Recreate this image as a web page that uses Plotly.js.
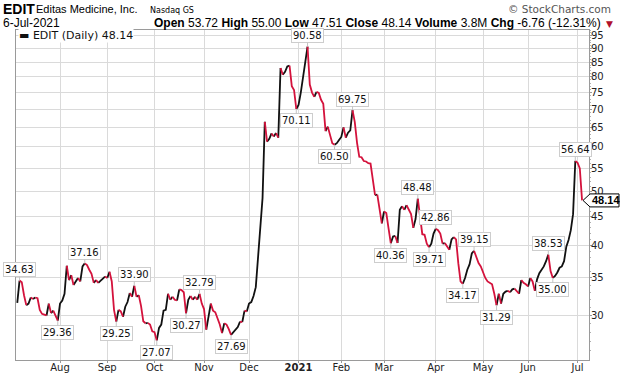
<!DOCTYPE html>
<html><head><meta charset="utf-8">
<script src="https://cdn.plot.ly/plotly-3.0.1.min.js"></script>
<style>html,body{margin:0;padding:0;background:#fff}#chart{width:620px;height:376px}</style>
</head><body><div id="chart"></div>
<script>
const dates = [
'2020-07-07','2020-07-08','2020-07-09','2020-07-10','2020-07-13','2020-07-14','2020-07-15','2020-07-16','2020-07-17',
'2020-07-20','2020-07-21','2020-07-22','2020-07-23','2020-07-24','2020-07-27','2020-07-28','2020-07-29','2020-07-30','2020-07-31',
'2020-08-03','2020-08-04','2020-08-05','2020-08-06','2020-08-07','2020-08-10','2020-08-11','2020-08-12','2020-08-13','2020-08-14',
'2020-08-17','2020-08-18','2020-08-19','2020-08-20','2020-08-21','2020-08-24','2020-08-25','2020-08-26','2020-08-27','2020-08-28','2020-08-31',
'2020-09-01','2020-09-02','2020-09-03','2020-09-04','2020-09-08','2020-09-09','2020-09-10','2020-09-11','2020-09-14','2020-09-15',
'2020-09-16','2020-09-17','2020-09-18','2020-09-21','2020-09-22','2020-09-23','2020-09-24','2020-09-25','2020-09-28','2020-09-29','2020-09-30',
'2020-10-01','2020-10-02','2020-10-05','2020-10-06','2020-10-07','2020-10-08','2020-10-09','2020-10-12','2020-10-13','2020-10-14',
'2020-10-15','2020-10-16','2020-10-19','2020-10-20','2020-10-21','2020-10-22','2020-10-23','2020-10-26','2020-10-27','2020-10-28','2020-10-29','2020-10-30',
'2020-11-02','2020-11-03','2020-11-04','2020-11-05','2020-11-06','2020-11-09','2020-11-10','2020-11-11','2020-11-12','2020-11-13',
'2020-11-16','2020-11-17','2020-11-18','2020-11-19','2020-11-20','2020-11-23','2020-11-24','2020-11-25','2020-11-27','2020-11-30',
'2020-12-01','2020-12-02','2020-12-03','2020-12-04','2020-12-07','2020-12-08','2020-12-09','2020-12-10','2020-12-11',
'2020-12-14','2020-12-15','2020-12-16','2020-12-17','2020-12-18','2020-12-21','2020-12-22','2020-12-23','2020-12-24','2020-12-28','2020-12-29','2020-12-30','2020-12-31',
'2021-01-04','2021-01-05','2021-01-06','2021-01-07','2021-01-08','2021-01-11','2021-01-12','2021-01-13','2021-01-14','2021-01-15',
'2021-01-19','2021-01-20','2021-01-21','2021-01-22','2021-01-25','2021-01-26','2021-01-27','2021-01-28','2021-01-29',
'2021-02-01','2021-02-02','2021-02-03','2021-02-04','2021-02-05','2021-02-08','2021-02-09','2021-02-10','2021-02-11','2021-02-12',
'2021-02-16','2021-02-17','2021-02-18','2021-02-19','2021-02-22','2021-02-23','2021-02-24','2021-02-25','2021-02-26',
'2021-03-01','2021-03-02','2021-03-03','2021-03-04','2021-03-05','2021-03-08','2021-03-09','2021-03-10','2021-03-11','2021-03-12',
'2021-03-15','2021-03-16','2021-03-17','2021-03-18','2021-03-19','2021-03-22','2021-03-23','2021-03-24','2021-03-25','2021-03-26','2021-03-29','2021-03-30','2021-03-31',
'2021-04-01','2021-04-05','2021-04-06','2021-04-07','2021-04-08','2021-04-09','2021-04-12','2021-04-13','2021-04-14','2021-04-15','2021-04-16',
'2021-04-19','2021-04-20','2021-04-21','2021-04-22','2021-04-23','2021-04-26','2021-04-27','2021-04-28','2021-04-29','2021-04-30',
'2021-05-03','2021-05-04','2021-05-05','2021-05-06','2021-05-07','2021-05-10','2021-05-11','2021-05-12','2021-05-13','2021-05-14',
'2021-05-17','2021-05-18','2021-05-19','2021-05-20','2021-05-21','2021-05-24','2021-05-25','2021-05-26','2021-05-27','2021-05-28',
'2021-06-01','2021-06-02','2021-06-03','2021-06-04','2021-06-07','2021-06-08','2021-06-09','2021-06-10','2021-06-11',
'2021-06-14','2021-06-15','2021-06-16','2021-06-17','2021-06-18','2021-06-21','2021-06-22','2021-06-23','2021-06-24','2021-06-25',
'2021-06-28','2021-06-29','2021-06-30','2021-07-01','2021-07-02','2021-07-06'
];
const closes = [
31.6,34.63,34.4,32.6,31.3,31.5,32.3,32.1,32.3,
32.2,30.7,30.2,30.1,30.0,31.5,30.3,30.6,29.9,29.36,
31.5,31.9,32.8,36.8,34.7,35.4,34.0,34.5,35.0,34.5,
36.7,37.16,36.9,36.2,35.6,34.3,34.7,34.3,34.6,35.0,35.2,
35.0,35.9,34.5,30.7,29.25,30.7,30.5,29.85,31.1,31.7,
32.9,32.4,33.90,32.4,32.6,31.2,29.3,29.05,29.1,28.9,28.1,
28.0,27.07,28.5,28.9,30.6,30.7,32.8,32.0,32.4,32.0,
31.9,33.4,33.3,33.0,30.27,32.0,32.5,32.0,32.4,32.0,32.79,31.5,
30.8,28.3,30.0,31.5,30.6,30.4,29.65,28.9,27.9,29.05,
28.9,28.35,27.69,28.0,28.3,28.6,29.25,29.2,30.6,30.5,
31.5,31.7,32.5,33.7,37.9,43.2,48.6,66.5,61.3,
62.0,63.4,62.6,63.5,62.3,83.0,80.7,81.7,83.5,83.8,77.0,75.8,70.11,
71.3,75.0,80.0,86.5,90.58,77.5,75.0,73.7,75.2,74.9,
72.8,71.6,64.0,65.2,63.0,60.9,60.50,60.9,61.7,
62.5,65.0,62.3,63.6,64.2,69.75,66.4,61.0,57.6,57.5,
56.6,56.5,56.1,56.0,52.7,49.2,49.3,46.0,43.8,
46.0,45.7,42.9,40.36,41.5,41.6,40.4,46.3,47.0,46.3,
47.2,46.4,45.5,43.0,44.6,48.48,45.0,41.9,41.8,40.3,39.71,40.3,42.0,
42.86,42.6,42.0,40.3,40.4,39.8,39.3,41.0,41.4,41.0,37.2,
34.5,34.17,35.0,36.2,37.0,38.7,39.15,38.3,37.2,36.7,
35.7,35.0,34.5,34.3,34.1,32.8,31.29,32.8,31.5,32.8,
33.1,33.2,33.0,33.4,33.5,33.2,32.8,34.7,34.3,34.1,
33.8,35.0,34.5,33.2,34.8,35.7,36.2,36.7,37.5,
38.53,36.0,35.00,35.3,35.8,36.5,36.7,37.5,39.8,40.9,
42.6,45.5,56.64,56.2,54.90,48.14
];
const tickDates = ['2020-08-03','2020-09-01','2020-10-01','2020-11-02','2020-12-01','2021-01-04','2021-02-01','2021-03-01','2021-04-01','2021-05-03','2021-06-01','2021-07-01'];
const tickLabels = ['Aug','Sep','Oct','Nov','Dec','<b>2021</b>','Feb','Mar','Apr','May','Jun','Jul'];
const yTicks = [30,35,40,45,50,55,60,65,70,75,80,85,90,95];
const holidays = ['2020-07-03','2020-09-07','2020-11-26','2020-12-25','2021-01-01','2021-01-18','2021-02-15','2021-04-02','2021-05-31','2021-07-05'];
const labelDates = ['2020-07-08','2020-07-31','2020-08-18','2020-09-08','2020-09-18','2020-10-02','2020-10-21','2020-10-29','2020-11-18',
  '2020-12-31','2021-01-08','2021-01-27','2021-02-08','2021-03-04','2021-03-22','2021-03-29','2021-04-01','2021-04-20','2021-04-27',
  '2021-05-11','2021-06-14','2021-06-16','2021-06-30'];
const labelSides = ['a','b','a','b','a','b','b','a','b','b','a','b','a','b','a','b','a','b','a','b','a','b','a'];
const symbol = 'EDIT';
const company = 'Editas Medicine, Inc.';
const exchange = 'Nasdaq GS';
const quoteDate = '6-Jul-2021';
const quoteOpen = 53.72, quoteHigh = 55.00, quoteLow = 47.51, quoteVolume = '3.8M';

const n = closes.length;
const last = closes[n-1], prev = closes[n-2];
const chg = last - prev, pct = chg / prev * 100;

// colored segments: black when rising, red when falling
const upX=[], upY=[], dnX=[], dnY=[];
let cur = null;
for (let i=1;i<n;i++){
  const dir = closes[i] >= closes[i-1] ? 'up' : 'dn';
  const X = dir==='up'?upX:dnX, Y = dir==='up'?upY:dnY;
  if (dir !== cur){
    if (X.length){ X.push(null); Y.push(null); }
    X.push(dates[i-1]); Y.push(closes[i-1]);
    cur = dir;
  }
  X.push(dates[i]); Y.push(closes[i]);
}
const RED = '#d4123c', BLK = '#111111';
const traces = [
  {x:upX, y:upY, type:'scatter', mode:'lines', line:{color:BLK, width:1.8}, connectgaps:false, hoverinfo:'skip', showlegend:false},
  {x:dnX, y:dnY, type:'scatter', mode:'lines', line:{color:RED, width:1.8}, connectgaps:false, hoverinfo:'skip', showlegend:false}
];

const minorVals = [];
for (let v=26; v<=97; v++) if (v%5) minorVals.push(v);

const anns = [];
labelDates.forEach((d,k)=>{
  const v = closes[dates.indexOf(d)];
  const above = labelSides[k]==='a';
  anns.push({x:d, y:Math.log10(v), xref:'x', yref:'y', text:v.toFixed(2), showarrow:true, arrowhead:0, arrowwidth:1,
    arrowcolor:'#c4c4c4', ax:0, ay:(above?-11:12), standoff:0,
    font:{family:'DejaVu Sans', size:10, color:'#111'}, bgcolor:'#fff', bordercolor:'#cdcdcd', borderwidth:1, borderpad:1});
});
// legend
anns.push({x:0, y:1, xref:'paper', yref:'paper', xanchor:'left', yanchor:'middle', xshift:2, yshift:-5, showarrow:false,
  text:'<b>▬</b> '+symbol+' (Daily) '+last.toFixed(2), font:{family:'DejaVu Sans', size:11, color:'#111'}, bgcolor:'#fff', borderpad:0});
// last price tag
anns.push({x:1, y:Math.log10(last), xref:'paper', yref:'y', xanchor:'left', yanchor:'middle', xshift:1, showarrow:false,
  text:'<b>'+last.toFixed(2)+'</b>', font:{family:'Liberation Sans', size:11, color:'#000'}});
// header (pixel offsets from plot top-left at (16,30))
function hdr(text, px, py, font, anchor){
  anns.push({x:0, y:1, xref:'paper', yref:'paper', xanchor:anchor||'left', yanchor:'middle', xshift:px-16, yshift:30-py,
    showarrow:false, text:text, font:font});
}
hdr('<b>'+symbol+'</b>', 1, 9, {family:'Liberation Sans', size:14, color:'#000'});
hdr(company, 34, 9, {family:'Liberation Sans', size:11, color:'#000'});
hdr(exchange, 148, 10, {family:'DejaVu Sans', size:8, color:'#000'});
hdr('© StockCharts.com', 613, 9, {family:'DejaVu Sans', size:10.5, color:'#555'}, 'right');
hdr(quoteDate, 1, 23, {family:'Liberation Sans', size:12, color:'#000'});
hdr('<b>Open</b> '+quoteOpen.toFixed(2)+' <b>High</b> '+quoteHigh.toFixed(2)+' <b>Low</b> '+quoteLow.toFixed(2)+
    ' <b>Close</b> '+last.toFixed(2)+' <b>Volume</b> '+quoteVolume+' <b>Chg</b> '+chg.toFixed(2)+' ('+pct.toFixed(2)+'%)',
    603, 23, {family:'Liberation Sans', size:12, color:'#000'}, 'right');
hdr('▼', 604, 24, {family:'DejaVu Sans', size:9, color:'#b0102c'});

const shapes = [
  {type:'path', xref:'paper', yref:'y', xsizemode:'pixel', ysizemode:'pixel', xanchor:1, yanchor:last,
   path:'M -6,0 L 1,-6.5 L 30,-6.5 L 30,6.5 L 1,6.5 Z', line:{color:'#000', width:1}, fillcolor:'#fff', layer:'above'}
];

const layout = {
  width:620, height:376, margin:{l:16, r:31, t:30, b:16, pad:0},
  paper_bgcolor:'#fff', plot_bgcolor:'#fff', showlegend:false,
  font:{family:'DejaVu Sans', size:10, color:'#222'},
  xaxis:{type:'date', range:['2020-07-06 10:30','2021-07-09 02:00'],
    rangebreaks:[{bounds:['sat','mon']},{values:holidays}],
    tickmode:'array', tickvals:tickDates, ticktext:tickLabels,
    showgrid:true, gridcolor:'#dadada', gridwidth:1, zeroline:false,
    showline:true, linecolor:'#9a9a9a', linewidth:1, mirror:true,
    ticks:'outside', ticklen:2, tickcolor:'#9a9a9a', ticklabelstandoff:-4,
    tickfont:{family:'DejaVu Sans', size:10, color:'#222'}, fixedrange:true},
  yaxis:{type:'log', side:'right', range:[Math.log10(24.98), Math.log10(97.0)],
    tickmode:'array', tickvals:yTicks, ticktext:yTicks.map(String),
    showgrid:true, gridcolor:'#dadada', gridwidth:1, zeroline:false,
    showline:true, linecolor:'#9a9a9a', linewidth:1, mirror:true,
    ticks:'outside', ticklen:2, tickcolor:'#9a9a9a', ticklabelstandoff:-3,
    minor:{tickmode:'array', tickvals:minorVals, ticks:'outside', ticklen:1, tickcolor:'#b0b0b0', showgrid:false},
    tickfont:{family:'DejaVu Sans', size:10, color:'#222'}, fixedrange:true},
  annotations:anns, shapes:shapes
};
Plotly.newPlot('chart', traces, layout, {staticPlot:true, displayModeBar:false});
</script>
</body></html>
